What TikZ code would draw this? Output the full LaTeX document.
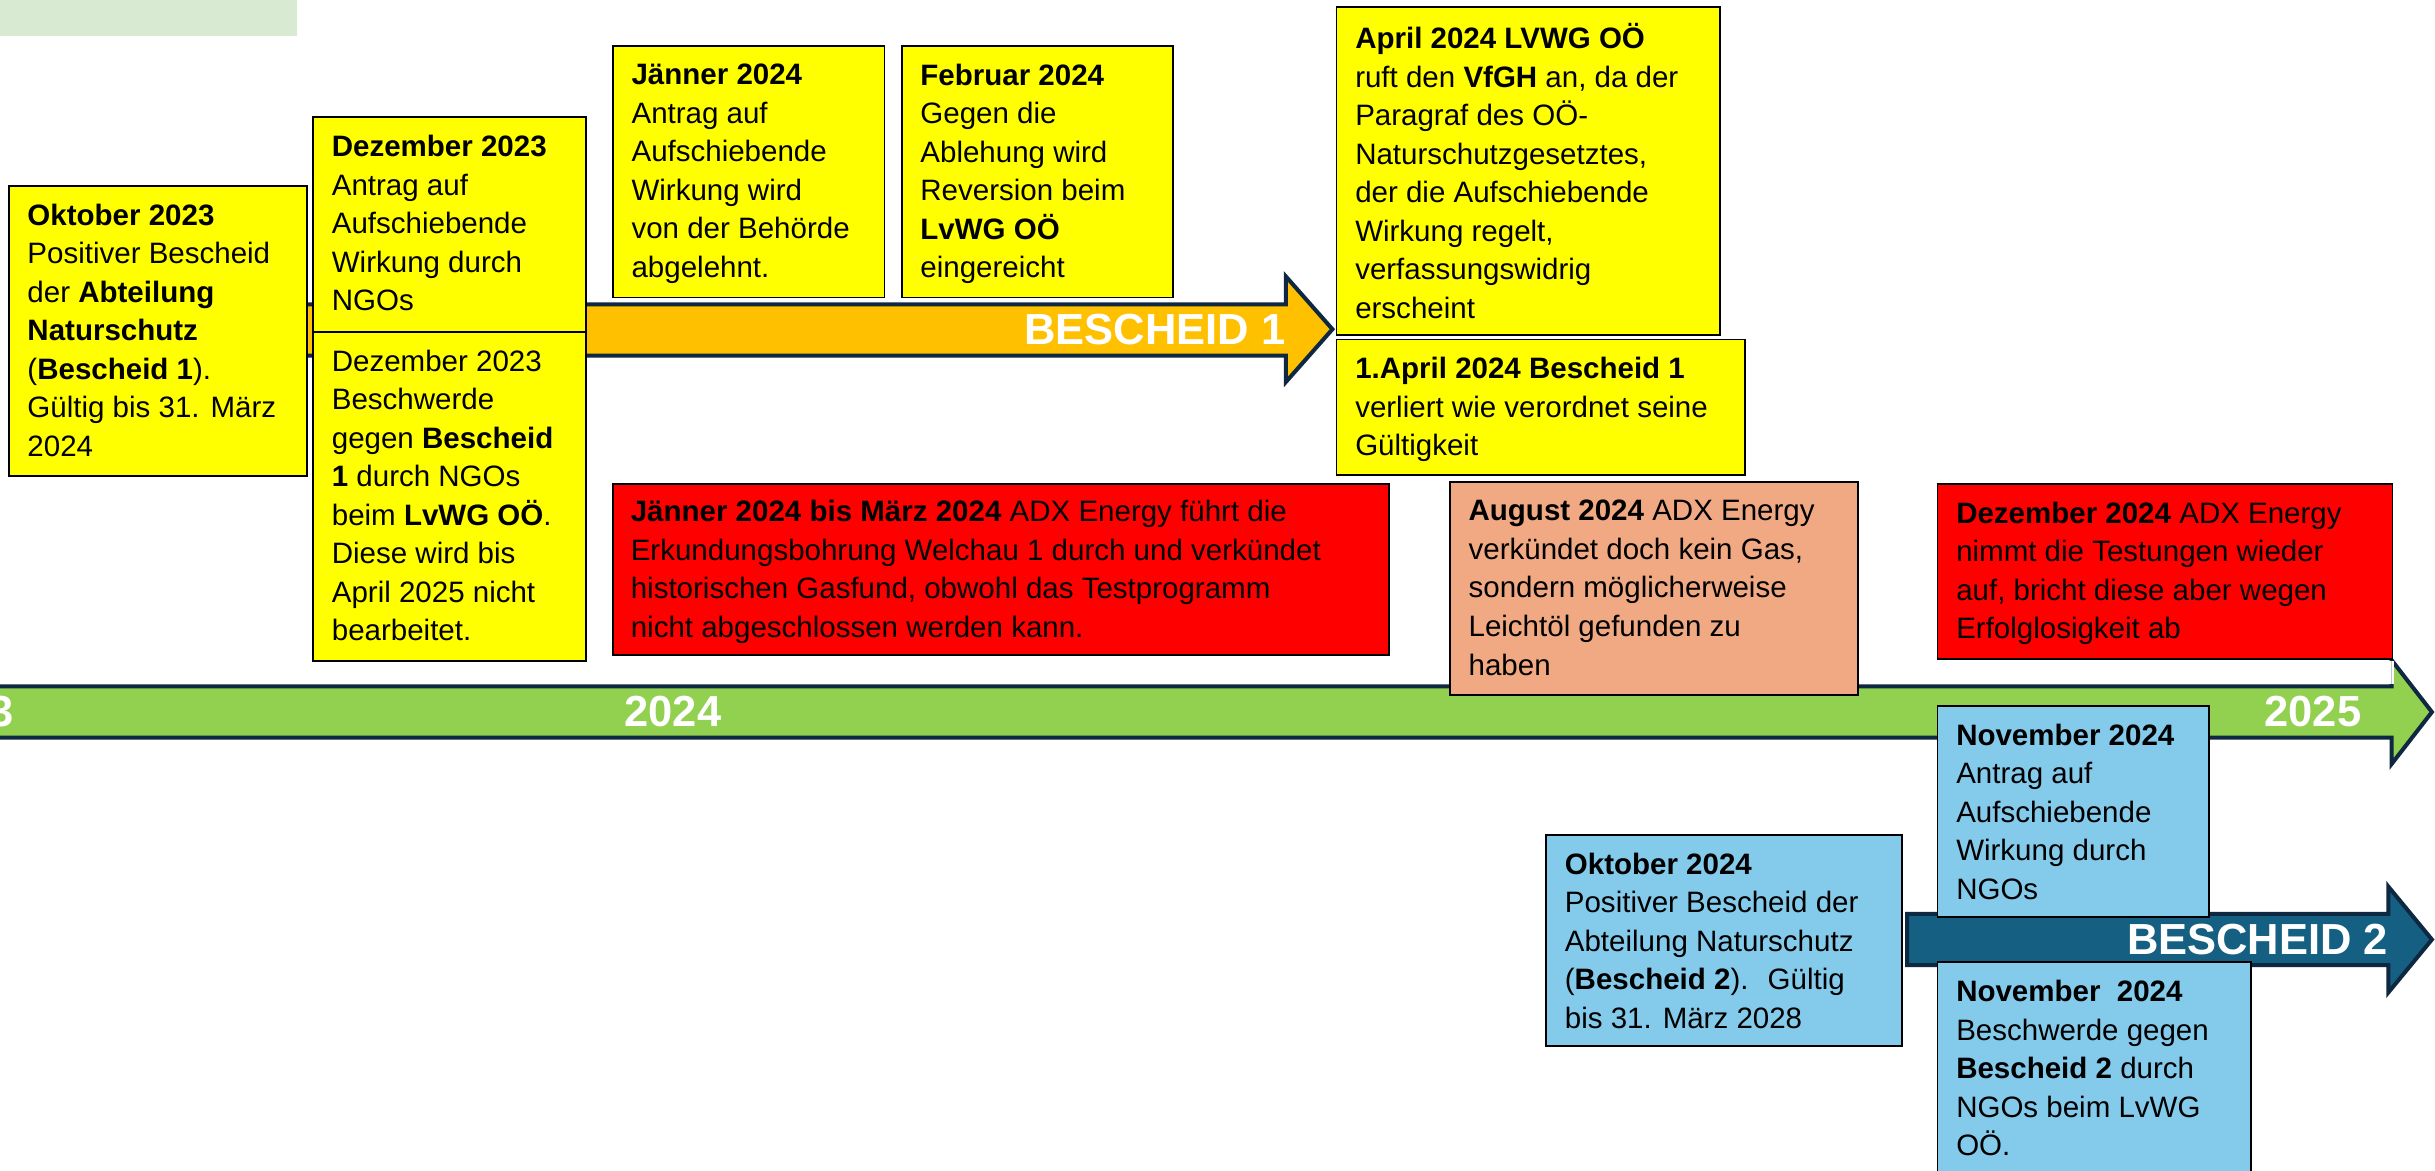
\documentclass[tikz,border=0pt]{standalone}
\usepackage{fontspec}
\setmainfont{Liberation Sans}
\usetikzlibrary{positioning}
\definecolor{titlegreen}{HTML}{D9EAD3}
\definecolor{timegreen}{HTML}{92D050}
\definecolor{arroworange}{HTML}{FFC000}
\definecolor{arrowblue}{HTML}{156082}
\definecolor{arrowline}{HTML}{0E2841}
\definecolor{boxyellow}{HTML}{FFFF00}
\definecolor{boxred}{HTML}{FF0000}
\definecolor{boxsalmon}{HTML}{F1A983}
\definecolor{boxblue}{HTML}{83CAEB}
\begin{document}
\begin{tikzpicture}[x=1pt,y=-1pt,line join=miter,
	evbox/.style={draw=black,line width=1.2pt,anchor=north west,inner sep=0pt},
	evtext/.style={align=left,inner sep=0pt,font=\fontsize{19}{24.8}\selectfont},
	bigarrow/.style={draw=arrowline,line width=2.6pt},
	arrowlabel/.style={text=white,inner sep=0pt,font=\fontsize{28}{30}\selectfont\bfseries}]
	\useasboundingbox (0,0) rectangle (1568,754);
	\fill[titlegreen] (0,0) rectangle (191,23);
	\draw[bigarrow,fill=timegreen] (-10,442)--(1540,442)--(1540,425)--(1566,458.5)--(1540,492)--(1540,475)--(-10,475)--cycle;
	\draw[bigarrow,fill=arroworange] (150,196)--(828,196)--(828,178)--(858,212)--(828,246)--(828,229)--(150,229)--cycle;
	\draw[bigarrow,fill=arrowblue] (1228,588.5)--(1538,588.5)--(1538,571)--(1566,605)--(1538,639)--(1538,621.5)--(1228,621.5)--cycle;
	\fill[white] (1400,425.5) rectangle (1541.6,440.6);
	\draw[gray!45,line width=1pt] (1540,425.5)--(1540,440.6);
	\node[arrowlabel,anchor=east] (y23) at (9,458.5) {2023};
	\node[arrowlabel,anchor=west] (y24) at (402,458.5) {2024};
	\node[arrowlabel,anchor=west] (y25) at (1458,458.5) {2025};
	\node[arrowlabel,anchor=east] (b1) at (828,212) {BESCHEID 1};
	\node[arrowlabel,anchor=east] (b2) at (1538,605) {BESCHEID 2};
	% Bescheid 1
	\node[evbox,fill=boxyellow,minimum width=192,minimum height=187] (okt23) at (5,119) {};
	\node[evtext,below right=12pt and 12.5pt of okt23.north west] (okt23t) {\textbf{Oktober 2023}\\Positiver Bescheid\\der \textbf{Abteilung}\\\textbf{Naturschutz}\\(\textbf{Bescheid 1}).\\Gültig bis 31. März\\2024};
	\node[evbox,fill=boxyellow,minimum width=176,minimum height=138] (dez23a) at (201,75) {};
	\node[evtext,below right=12pt and 12.5pt of dez23a.north west] (dez23at) {\textbf{Dezember 2023}\\Antrag auf\\Aufschiebende\\Wirkung durch\\NGOs};
	\node[evbox,fill=boxyellow,minimum width=176,minimum height=212] (dez23b) at (201,213) {};
	\node[evtext,below right=12pt and 12.5pt of dez23b.north west] (dez23bt) {Dezember 2023\\Beschwerde\\gegen \textbf{Bescheid}\\\textbf{1} durch NGOs\\beim \textbf{LvWG OÖ}.\\Diese wird bis\\April 2025 nicht\\bearbeitet.};
	\node[evbox,fill=boxyellow,minimum width=175,minimum height=162] (jan24) at (394,29) {};
	\node[evtext,below right=12pt and 12.5pt of jan24.north west] (jan24t) {\textbf{Jänner 2024}\\Antrag auf\\Aufschiebende\\Wirkung wird\\von der Behörde\\abgelehnt.};
	\node[evbox,fill=boxyellow,minimum width=175,minimum height=162] (feb24) at (580,29) {};
	\node[evtext,below right=12pt and 12.5pt of feb24.north west] (feb24t) {\textbf{Februar 2024}\\Gegen die\\Ablehung wird\\Reversion beim\\\textbf{LvWG OÖ}\\eingereicht};
	\node[evbox,fill=boxyellow,minimum width=247,minimum height=211] (apr24) at (860,4) {};
	\node[evtext,below right=11pt and 12.5pt of apr24.north west] (apr24t) {\textbf{April 2024 LVWG OÖ}\\ruft den \textbf{VfGH} an, da der\\Paragraf des OÖ-\\Naturschutzgesetztes,\\der die Aufschiebende\\Wirkung regelt,\\verfassungswidrig\\erscheint};
	\node[evbox,fill=boxyellow,minimum width=263,minimum height=87] (apr1) at (860,218) {};
	\node[evtext,below right=12pt and 12.5pt of apr1.north west] (apr1t) {\textbf{1.April 2024 Bescheid 1}\\verliert wie verordnet seine\\Gültigkeit};
	% ADX Energy
	\node[evbox,fill=boxred,minimum width=500,minimum height=110] (bohr) at (394,311) {};
	\node[evtext,below right=11pt and 12pt of bohr.north west] (bohrt) {\textbf{Jänner 2024 bis März 2024} ADX Energy führt die\\Erkundungsbohrung Welchau 1 durch und verkündet\\historischen Gasfund, obwohl das Testprogramm\\nicht abgeschlossen werden kann.};
	\node[evbox,fill=boxsalmon,minimum width=263,minimum height=137] (aug24) at (933,310) {};
	\node[evtext,below right=12pt and 12.5pt of aug24.north west] (aug24t) {\textbf{August 2024} ADX Energy\\verkündet doch kein Gas,\\sondern möglicherweise\\Leichtöl gefunden zu\\haben};
	\node[evbox,fill=boxred,minimum width=293,minimum height=113] (dez24) at (1247,311) {};
	\node[evtext,below right=12pt and 12.5pt of dez24.north west] (dez24t) {\textbf{Dezember 2024} ADX Energy\\nimmt die Testungen wieder\\auf, bricht diese aber wegen\\Erfolglosigkeit ab};
	% Bescheid 2
	\node[evbox,fill=boxblue,minimum width=229,minimum height=136] (okt24) at (995,537) {};
	\node[evtext,below right=12pt and 12.5pt of okt24.north west] (okt24t) {\textbf{Oktober 2024}\\Positiver Bescheid der\\Abteilung Naturschutz\\(\textbf{Bescheid 2}).~ Gültig\\bis 31. März 2028};
	\node[evbox,fill=boxblue,minimum width=175,minimum height=136] (nov24a) at (1247,454) {};
	\node[evtext,below right=12pt and 12.5pt of nov24a.north west] (nov24at) {\textbf{November 2024}\\Antrag auf\\Aufschiebende\\Wirkung durch\\NGOs};
	\node[evbox,fill=boxblue,minimum width=202,minimum height=150] (nov24b) at (1247,619) {};
	\node[evtext,below right=12pt and 12.5pt of nov24b.north west] (nov24bt) {\textbf{November~~2024}\\Beschwerde gegen\\\textbf{Bescheid 2} durch\\NGOs beim LvWG\\OÖ.};
\end{tikzpicture}
\end{document}
